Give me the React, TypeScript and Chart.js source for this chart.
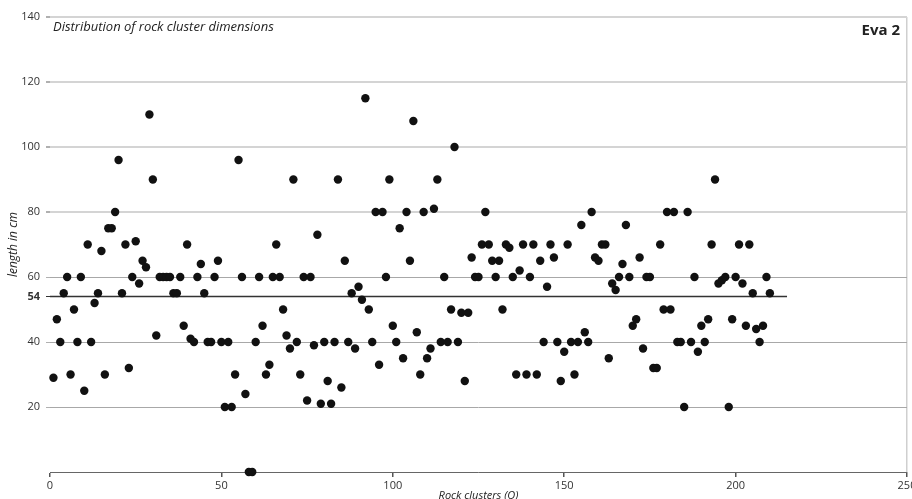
import React, { useEffect, useRef } from "react";
import { Chart, registerables } from "chart.js";

Chart.register(...registerables);

// Length (cm) of each rock cluster, cluster number = position in list (1..210)
const lengthsCm: number[] = [
  29, 47, 40, 55, 60, 30, 50, 40, 60, 25,
  70, 40, 52, 55, 68, 30, 75, 75, 80, 96,
  55, 70, 32, 60, 71, 58, 65, 63, 110, 90,
  42, 60, 60, 60, 60, 55, 55, 60, 45, 70,
  41, 40, 60, 64, 55, 40, 40, 60, 65, 40,
  20, 40, 20, 30, 96, 60, 24, 0, 0, 40,
  60, 45, 30, 33, 60, 70, 60, 50, 42, 38,
  90, 40, 30, 60, 22, 60, 39, 73, 21, 40,
  28, 21, 40, 90, 26, 65, 40, 55, 38, 57,
  53, 115, 50, 40, 80, 33, 80, 60, 90, 45,
  40, 75, 35, 80, 65, 108, 43, 30, 80, 35,
  38, 81, 90, 40, 60, 40, 50, 100, 40, 49,
  28, 49, 66, 60, 60, 70, 80, 70, 65, 60,
  65, 50, 70, 69, 60, 30, 62, 70, 30, 60,
  70, 30, 65, 40, 57, 70, 66, 40, 28, 37,
  70, 40, 30, 40, 76, 43, 40, 80, 66, 65,
  70, 70, 35, 58, 56, 60, 64, 76, 60, 45,
  47, 66, 38, 60, 60, 32, 32, 70, 50, 80,
  50, 80, 40, 40, 20, 80, 40, 60, 37, 45,
  40, 47, 70, 90, 58, 59, 60, 20, 47, 60,
  70, 58, 45, 70, 55, 44, 40, 45, 60, 55,
];

const meanLength = 54;
const meanLineX: number[] = [0, 215];
const xTickValues: number[] = [0, 50, 100, 150, 200, 250];
const yTickValues: number[] = [20, 40, 54, 60, 80, 100, 120, 140];

const chartTitle = "Distribution of rock cluster dimensions";
const siteLabel = "Eva 2";
const xAxisTitle = "Rock clusters (Q)";
const yAxisTitle = "length in cm";

const FONT = "'Open Sans', 'Noto Sans', sans-serif";

export default function App() {
  const canvasRef = useRef<HTMLCanvasElement | null>(null);

  useEffect(() => {
    document.body.style.margin = "0";
    const canvas = canvasRef.current;
    if (!canvas) return;

    const textPlugin = {
      id: "insideTexts",
      afterDraw(chart: any) {
        const { ctx, chartArea } = chart;
        ctx.save();
        ctx.fillStyle = "#222";
        ctx.textBaseline = "middle";
        ctx.textAlign = "left";
        ctx.font = `italic 13px ${FONT}`;
        ctx.fillText(chartTitle, chartArea.left + 3, 27);
        ctx.textAlign = "right";
        ctx.font = `bold 15px ${FONT}`;
        ctx.fillText(siteLabel, chartArea.right - 7, 31);
        ctx.restore();
      },
    };

    const chart = new Chart(canvas, {
      type: "scatter",
      data: {
        datasets: [
          {
            type: "scatter",
            data: lengthsCm.map((v, i) => ({ x: i + 1, y: v })),
            backgroundColor: "#111",
            borderWidth: 0,
            pointRadius: 4.2,
            pointHoverRadius: 4.2,
            clip: false as any,
            order: 0,
          },
          {
            type: "line",
            data: meanLineX.map((x) => ({ x, y: meanLength })),
            borderColor: "#333",
            borderWidth: 1.6,
            pointRadius: 0,
            fill: false,
            order: 1,
          } as any,
        ],
      },
      plugins: [textPlugin],
      options: {
        animation: false,
        responsive: false,
        devicePixelRatio: 1,
        layout: { padding: { top: 17, right: 5, left: 0, bottom: 0 } },
        plugins: {
          legend: { display: false },
          tooltip: { enabled: false },
        },
        scales: {
          x: {
            type: "linear",
            min: 0,
            max: 250,
            afterBuildTicks: (scale: any) => {
              scale.ticks = xTickValues.map((v) => ({ value: v }));
            },
            afterFit: (scale: any) => {
              scale.height = 27;
              scale.paddingLeft = 0;
              scale.paddingRight = 0;
            },
            grid: {
              color: (ctx: any) => (ctx.tick && ctx.tick.value === 250 ? "#cfcfcf" : "rgba(0,0,0,0)"),
              lineWidth: 1.5,
              tickColor: "#555",
              tickLength: 5,
            },
            border: { display: true, color: "#666", width: 1 },
            ticks: {
              color: "#333",
              font: { family: FONT, size: 11 },
              padding: 2,
              maxRotation: 0,
            },
            title: {
              display: true,
              text: xAxisTitle,
              color: "#222",
              font: { family: FONT, size: 11, style: "italic", lineHeight: 0.6 },
              padding: { top: 0, bottom: 0 },
            },
          },
          y: {
            type: "linear",
            min: 0,
            max: 140,
            afterBuildTicks: (scale: any) => {
              scale.ticks = yTickValues.map((v) => ({ value: v }));
            },
            afterFit: (scale: any) => {
              scale.width = 50;
              scale.paddingTop = 0;
              scale.paddingBottom = 0;
            },
            grid: {
              color: (ctx: any) => {
                const v = ctx.tick ? ctx.tick.value : 0;
                if (v === 54) return "rgba(0,0,0,0)";
                return v >= 80 ? "#d4d4d4" : "#a8a8a8";
              },
              lineWidth: (ctx: any) => {
                const v = ctx.tick ? ctx.tick.value : 0;
                return v >= 80 ? 2 : 1;
              },
              tickColor: (ctx: any) => (ctx.tick && ctx.tick.value === 54 ? "#333" : "#b0b0b0"),
              tickLength: 4,
            },
            border: { display: false },
            ticks: {
              color: "#333",
              padding: 6,
              font: (ctx: any) => ({
                family: FONT,
                size: 11,
                weight: ctx.tick && ctx.tick.value === 54 ? "bold" : "normal",
              }),
            },
            title: {
              display: true,
              text: yAxisTitle,
              color: "#222",
              font: { family: FONT, size: 12, style: "italic" },
              padding: { top: 6, bottom: 0 },
            },
          },
        },
      },
    });

    return () => {
      chart.destroy();
    };
  }, []);

  return (
    <div style={{ width: 912, height: 499, background: "#fff" }}>
      <canvas ref={canvasRef} width={912} height={499} style={{ display: "block" }} />
    </div>
  );
}
